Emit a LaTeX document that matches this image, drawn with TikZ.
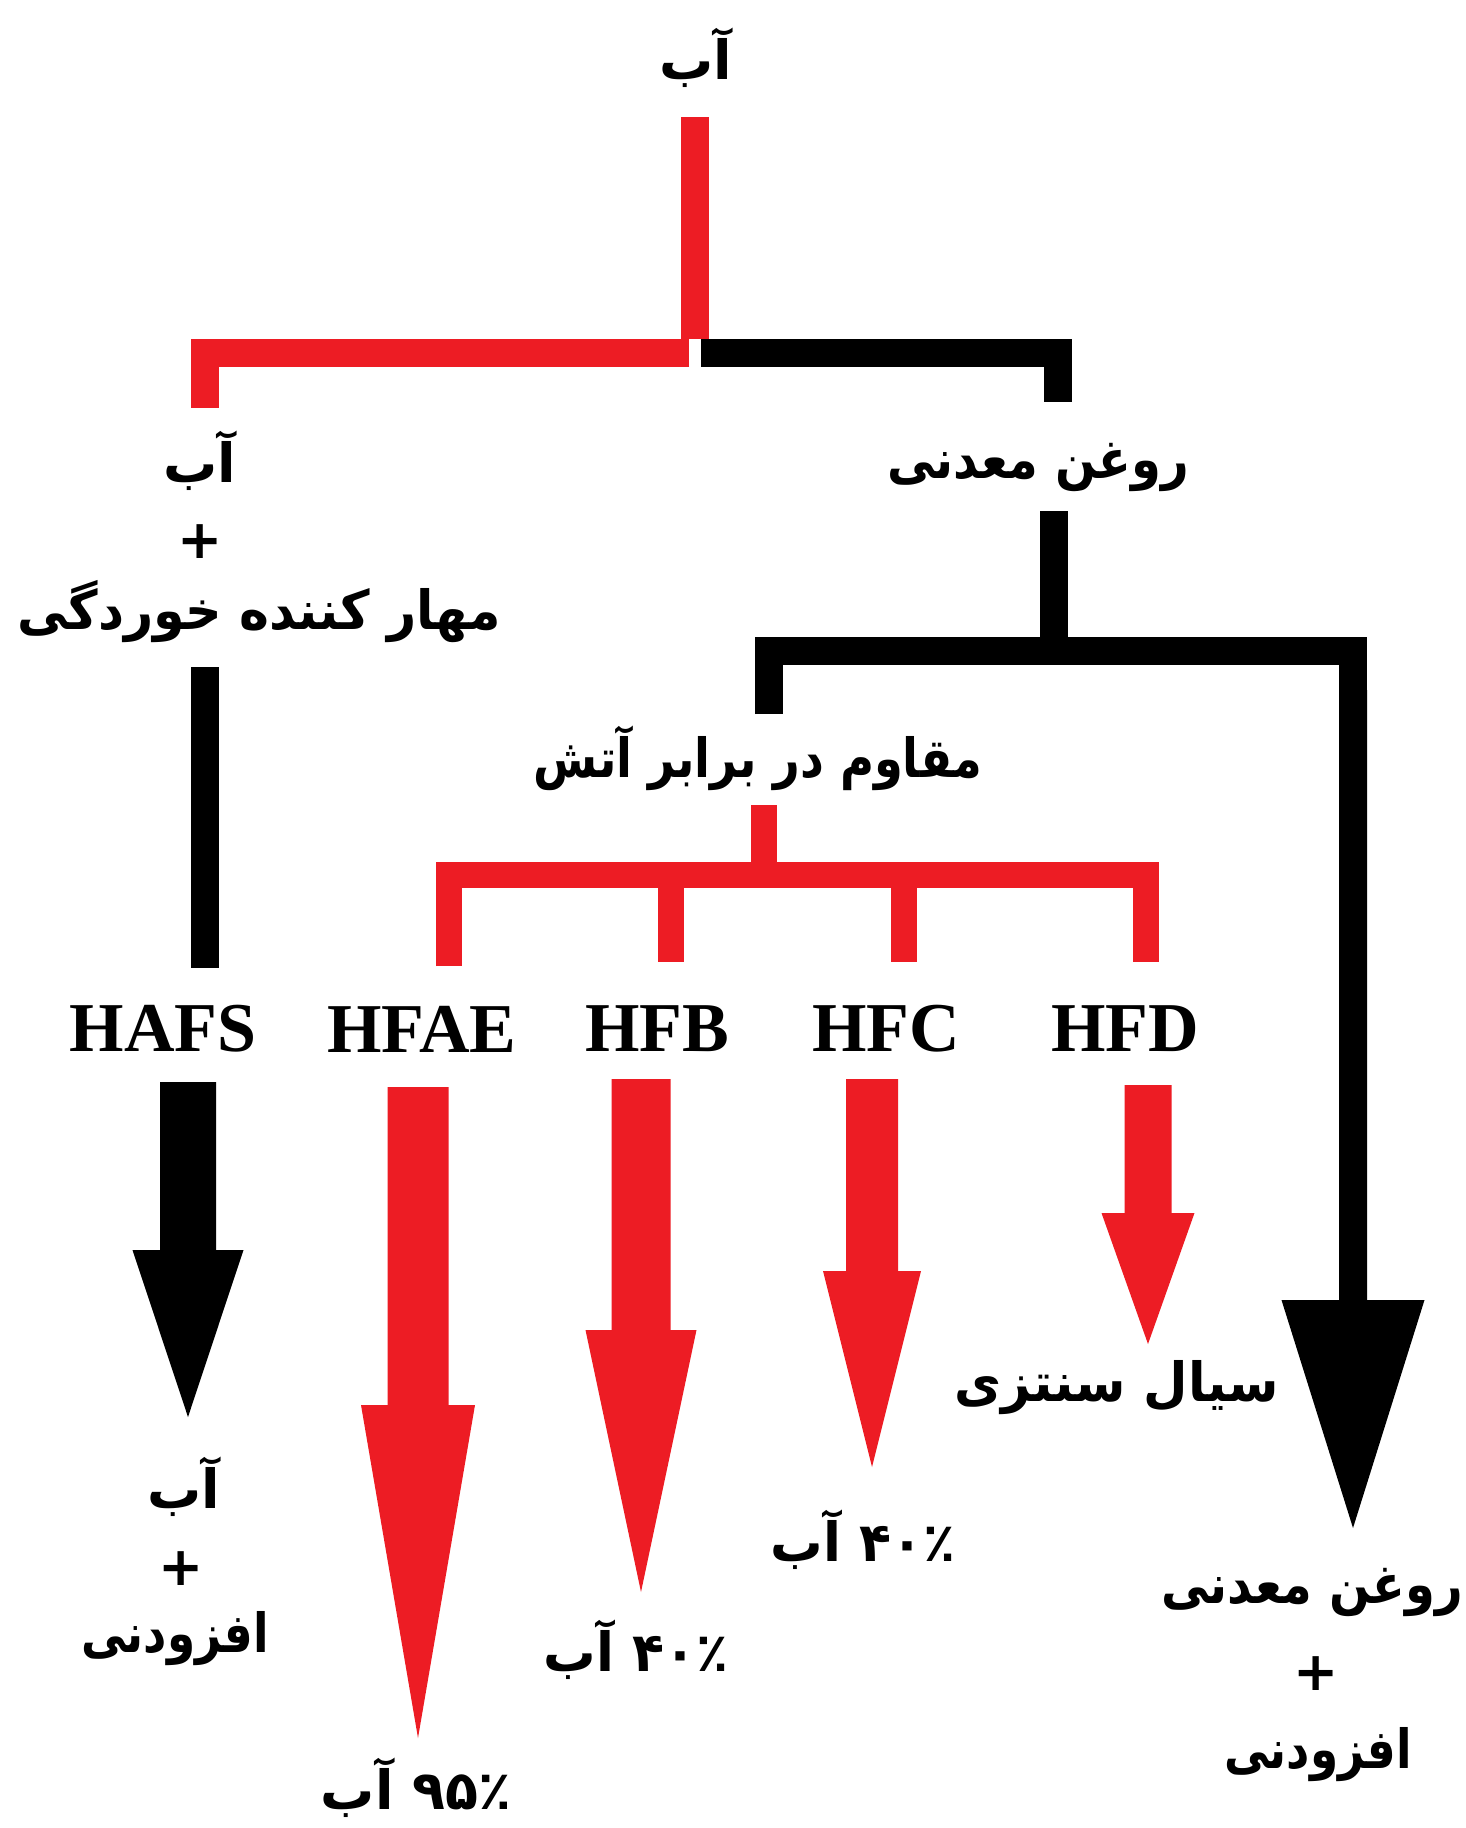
\documentclass[tikz,border=0pt]{standalone}
\usepackage{fontspec}
\usetikzlibrary{calc}
\TeXXeTstate=1
\newfontfamily\fa[Script=Arabic]{DejaVu Sans}
\newfontfamily\lat{Liberation Serif}
\definecolor{myred}{HTML}{ED1C24}
% Arabic text, horizontally scaled
\newcommand\fat[2][1]{\scalebox{#1}[1]{\beginR #2\endR}}
% #1 top coordinate, #2 tip coordinate, #3 half shaft, #4 half head, #5 head length (px), #6 colour
\newcommand\blockarr[6]{%
  \fill[#6] let \p1=(#1), \p2=(#2) in
   (\x1-#3*0.5pt,\y1) -- (\x1+#3*0.5pt,\y1) -- (\x1+#3*0.5pt,\y2+#5*0.5pt)
   -- (\x1+#4*0.5pt,\y2+#5*0.5pt) -- (\x2,\y2) -- (\x1-#4*0.5pt,\y2+#5*0.5pt)
   -- (\x1-#3*0.5pt,\y2+#5*0.5pt) -- cycle;}
\begin{document}
\begin{tikzpicture}[x=0.5pt,y=-0.5pt, line cap=butt, line join=miter,
  fa/.style={font=\fa\bfseries\fontsize{27}{32}\selectfont, inner sep=0pt},
  lat/.style={font=\lat\bfseries\fontsize{35}{40}\selectfont, inner sep=0pt},
  redbar/.style={draw=myred, line width=14pt},
  redbarthin/.style={draw=myred, line width=13pt},
  blackbar/.style={draw=black, line width=14pt}]
\useasboundingbox (0,0) rectangle (1466,1828);
\fill[white] (0,0) rectangle (1466,1828);

% text nodes
\node[fa] (top) at (696,58) {\fat{آب}};
\node[fa] (w1) at (200,461) {\fat{آب}};
\node[fa] (p1) at (200,542) {+};
\node[fa] (w1b) at (259,612) {\fat[0.94]{مهار کننده خوردگی}};
\node[fa] (oil) at (1038,467) {\fat[0.89]{روغن معدنی}};
\node[fa] (fire) at (758,758) {\fat[0.86]{مقاوم در برابر آتش}};

\node[lat] (HAFS) at (163,1029) {HAFS};
\node[lat] (HFAE) at (422,1029) {HFAE};
\node[lat] (HFB) at (657,1029) {HFB};
\node[lat] (HFC) at (886,1029) {HFC};
\node[lat] (HFD) at (1125,1029) {HFD};

\node[fa] (r1a) at (184,1487) {\fat{آب}};
\node[fa] (r1b) at (181,1569) {+};
\node[fa] (r1c) at (175,1639) {\fat[0.84]{افزودنی}};
\node[fa] (r2) at (416,1788) {\fat{\beginL ۹۵٪\endL{} آب}};
\node[fa] (r3) at (636,1650) {\fat[0.97]{\beginL ۴۰٪\endL{} آب}};
\node[fa] (r4) at (863,1540) {\fat[0.97]{\beginL ۴۰٪\endL{} آب}};
\node[fa] (r5) at (1117,1388) {\fat[0.95]{سیال سنتزی}};
\node[fa] (r6a) at (1312,1592) {\fat[0.89]{روغن معدنی}};
\node[fa] (r6b) at (1316,1674) {+};
\node[fa] (r6c) at (1318,1755) {\fat[0.84]{افزودنی}};

% named coordinates
\coordinate (t0) at (695,117);
\coordinate (t1) at (695,339);
\coordinate (jr) at (689,352.5);
\coordinate (lc) at (204.5,352.5);
\coordinate (ld) at (204.5,408);
\coordinate (jb) at (701,352.5);
\coordinate (rc) at (1057.5,352.5);
\coordinate (rd) at (1057.5,402);

\coordinate (o0) at (1054,511);
\coordinate (o1) at (1054,651);
\coordinate (fd) at (768.5,714);
\coordinate (fc) at (768.5,650.5);
\coordinate (mc) at (1353,650.5);
\coordinate (md) at (1353,700);
\coordinate (mtop) at (1353,690);
\coordinate (mtip) at (1353,1528);

\coordinate (s0) at (204.5,667);
\coordinate (s1) at (204.5,968);

\coordinate (f0) at (764,805);
\coordinate (f1) at (764,875);
\coordinate (a1) at (448.5,966);
\coordinate (a1c) at (448.5,874.5);
\coordinate (a4c) at (1145.5,874.5);
\coordinate (a4) at (1145.5,962);
\coordinate (a2c) at (671,874.5);
\coordinate (a2) at (671,962);
\coordinate (a3c) at (904,874.5);
\coordinate (a3) at (904,962);

% tree connectors
\draw[redbar] (t0) -- (t1);
\draw[redbar] (jr) -- (lc) -- (ld);
\draw[blackbar] (jb) -- (rc) -- (rd);

\draw[blackbar] (o0) -- (o1);
\draw[blackbar] (fd) -- (fc) -- (mc) -- (md);
\draw[blackbar] (s0) -- (s1);

\draw[redbarthin] (f0) -- (f1);
\draw[redbarthin] (a1) -- (a1c) -- (a4c) -- (a4);
\draw[redbarthin] (a2c) -- (a2);
\draw[redbarthin] (a3c) -- (a3);

% block arrows
\coordinate (h0) at (188,1082);  \coordinate (h1) at (188,1417);
\coordinate (e0) at (418,1087);  \coordinate (e1) at (418,1738);
\coordinate (b0) at (641,1079);  \coordinate (b1) at (641,1592);
\coordinate (c0) at (872,1079);  \coordinate (c1) at (872,1467);
\coordinate (d0) at (1148,1085); \coordinate (d1) at (1148,1344);

\blockarr{h0}{h1}{28}{55.5}{167}{black}
\blockarr{e0}{e1}{30.5}{57}{333}{myred}
\blockarr{b0}{b1}{29.5}{55.5}{262}{myred}
\blockarr{c0}{c1}{26}{49}{196}{myred}
\blockarr{d0}{d1}{23.5}{46.5}{131}{myred}
\blockarr{mtop}{mtip}{14}{71.5}{228}{black}
\end{tikzpicture}
\end{document}
